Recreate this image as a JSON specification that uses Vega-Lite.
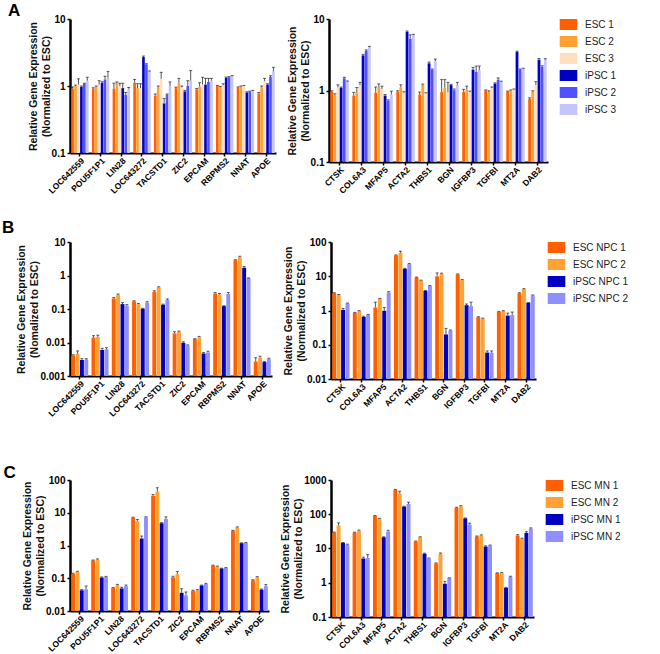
{
  "$schema": "https://vega.github.io/schema/vega-lite/v6.json",
  "padding": {"left": 1, "top": 2, "right": 0, "bottom": 0},
  "datasets": {
    "A1": [
      {"g":"LOC642559","s":"ESC 1","v":0.91,"hi":0.97},{"g":"LOC642559","s":"ESC 2","v":1.0,"hi":1.03},{"g":"LOC642559","s":"ESC 3","v":1.05,"hi":1.28},{"g":"LOC642559","s":"iPSC 1","v":0.97,"hi":1.0},{"g":"LOC642559","s":"iPSC 2","v":1.08,"hi":1.1},{"g":"LOC642559","s":"iPSC 3","v":1.2,"hi":1.35},
      {"g":"POU5F1P1","s":"ESC 1","v":0.91,"hi":0.94},{"g":"POU5F1P1","s":"ESC 2","v":0.98,"hi":1.0},{"g":"POU5F1P1","s":"ESC 3","v":1.05,"hi":1.2},{"g":"POU5F1P1","s":"iPSC 1","v":1.12,"hi":1.16},{"g":"POU5F1P1","s":"iPSC 2","v":1.25,"hi":1.4},{"g":"POU5F1P1","s":"iPSC 3","v":1.3,"hi":1.65},
      {"g":"LIN28","s":"ESC 1","v":0.91,"hi":1.1},{"g":"LIN28","s":"ESC 2","v":1.08,"hi":1.15},{"g":"LIN28","s":"ESC 3","v":1.0,"hi":1.1},{"g":"LIN28","s":"iPSC 1","v":0.93,"hi":1.1},{"g":"LIN28","s":"iPSC 2","v":0.74,"hi":0.8},{"g":"LIN28","s":"iPSC 3","v":0.91,"hi":0.95},
      {"g":"LOC643272","s":"ESC 1","v":1.12,"hi":1.25},{"g":"LOC643272","s":"ESC 2","v":0.93,"hi":1.08},{"g":"LOC643272","s":"ESC 3","v":0.93,"hi":1.08},{"g":"LOC643272","s":"iPSC 1","v":2.7,"hi":2.8},{"g":"LOC643272","s":"iPSC 2","v":2.1,"hi":2.15},{"g":"LOC643272","s":"iPSC 3","v":1.65,"hi":1.68},
      {"g":"TACSTD1","s":"ESC 1","v":0.72,"hi":0.76},{"g":"TACSTD1","s":"ESC 2","v":0.96,"hi":1.0},{"g":"TACSTD1","s":"ESC 3","v":1.28,"hi":1.6},{"g":"TACSTD1","s":"iPSC 1","v":0.55,"hi":0.65},{"g":"TACSTD1","s":"iPSC 2","v":0.74,"hi":0.76},{"g":"TACSTD1","s":"iPSC 3","v":1.0,"hi":1.15},
      {"g":"ZIC2","s":"ESC 1","v":0.93,"hi":0.96},{"g":"ZIC2","s":"ESC 2","v":1.1,"hi":1.3},{"g":"ZIC2","s":"ESC 3","v":0.96,"hi":1.0},{"g":"ZIC2","s":"iPSC 1","v":0.83,"hi":0.86},{"g":"ZIC2","s":"iPSC 2","v":1.0,"hi":1.2},{"g":"ZIC2","s":"iPSC 3","v":1.2,"hi":1.7},
      {"g":"EPCAM","s":"ESC 1","v":0.89,"hi":0.92},{"g":"EPCAM","s":"ESC 2","v":0.98,"hi":1.12},{"g":"EPCAM","s":"ESC 3","v":1.05,"hi":1.35},{"g":"EPCAM","s":"iPSC 1","v":1.05,"hi":1.3},{"g":"EPCAM","s":"iPSC 2","v":1.15,"hi":1.3},{"g":"EPCAM","s":"iPSC 3","v":1.2,"hi":1.3},
      {"g":"RBPMS2","s":"ESC 1","v":1.0,"hi":1.02},{"g":"RBPMS2","s":"ESC 2","v":0.96,"hi":0.98},{"g":"RBPMS2","s":"ESC 3","v":1.02,"hi":1.08},{"g":"RBPMS2","s":"iPSC 1","v":1.33,"hi":1.36},{"g":"RBPMS2","s":"iPSC 2","v":1.35,"hi":1.38},{"g":"RBPMS2","s":"iPSC 3","v":1.4,"hi":1.43},
      {"g":"NNAT","s":"ESC 1","v":0.95,"hi":0.97},{"g":"NNAT","s":"ESC 2","v":0.98,"hi":1.0},{"g":"NNAT","s":"ESC 3","v":1.0,"hi":1.02},{"g":"NNAT","s":"iPSC 1","v":0.8,"hi":0.82},{"g":"NNAT","s":"iPSC 2","v":0.82,"hi":0.84},{"g":"NNAT","s":"iPSC 3","v":0.84,"hi":0.86},
      {"g":"APOE","s":"ESC 1","v":0.77,"hi":0.8},{"g":"APOE","s":"ESC 2","v":0.96,"hi":1.0},{"g":"APOE","s":"ESC 3","v":1.18,"hi":1.3},{"g":"APOE","s":"iPSC 1","v":1.05,"hi":1.08},{"g":"APOE","s":"iPSC 2","v":1.36,"hi":1.42},{"g":"APOE","s":"iPSC 3","v":1.65,"hi":1.9}
    ],
    "A2": [
      {"g":"CTSK","s":"ESC 1","v":0.96,"hi":0.99},{"g":"CTSK","s":"ESC 2","v":0.87,"hi":0.9},{"g":"CTSK","s":"ESC 3","v":1.11,"hi":1.2},{"g":"CTSK","s":"iPSC 1","v":1.09,"hi":1.12},{"g":"CTSK","s":"iPSC 2","v":1.48,"hi":1.53},{"g":"CTSK","s":"iPSC 3","v":1.32,"hi":1.36},
      {"g":"COL6A3","s":"ESC 1","v":0.85,"hi":0.94},{"g":"COL6A3","s":"ESC 2","v":0.93,"hi":1.1},{"g":"COL6A3","s":"ESC 3","v":1.19,"hi":1.3},{"g":"COL6A3","s":"iPSC 1","v":3.1,"hi":3.2},{"g":"COL6A3","s":"iPSC 2","v":3.6,"hi":3.7},{"g":"COL6A3","s":"iPSC 3","v":4.0,"hi":4.15},
      {"g":"MFAP5","s":"ESC 1","v":0.93,"hi":1.12},{"g":"MFAP5","s":"ESC 2","v":1.11,"hi":1.24},{"g":"MFAP5","s":"ESC 3","v":1.05,"hi":1.15},{"g":"MFAP5","s":"iPSC 1","v":0.85,"hi":0.88},{"g":"MFAP5","s":"iPSC 2","v":0.72,"hi":0.74},{"g":"MFAP5","s":"iPSC 3","v":0.88,"hi":0.98},
      {"g":"ACTA2","s":"ESC 1","v":0.96,"hi":0.99},{"g":"ACTA2","s":"ESC 2","v":1.11,"hi":1.2},{"g":"ACTA2","s":"ESC 3","v":0.93,"hi":0.96},{"g":"ACTA2","s":"iPSC 1","v":6.6,"hi":6.8},{"g":"ACTA2","s":"iPSC 2","v":5.3,"hi":6.0},{"g":"ACTA2","s":"iPSC 3","v":5.9,"hi":6.1},
      {"g":"THBS1","s":"ESC 1","v":0.88,"hi":0.95},{"g":"THBS1","s":"ESC 2","v":1.19,"hi":1.23},{"g":"THBS1","s":"ESC 3","v":0.91,"hi":0.93},{"g":"THBS1","s":"iPSC 1","v":2.4,"hi":2.5},{"g":"THBS1","s":"iPSC 2","v":1.95,"hi":2.0},{"g":"THBS1","s":"iPSC 3","v":2.56,"hi":2.75},
      {"g":"BGN","s":"ESC 1","v":0.95,"hi":1.42},{"g":"BGN","s":"ESC 2","v":1.09,"hi":1.42},{"g":"BGN","s":"ESC 3","v":0.94,"hi":1.3},{"g":"BGN","s":"iPSC 1","v":1.19,"hi":1.22},{"g":"BGN","s":"iPSC 2","v":1.01,"hi":1.05},{"g":"BGN","s":"iPSC 3","v":1.19,"hi":1.3},
      {"g":"IGFBP3","s":"ESC 1","v":0.96,"hi":1.04},{"g":"IGFBP3","s":"ESC 2","v":1.03,"hi":1.15},{"g":"IGFBP3","s":"ESC 3","v":0.96,"hi":0.98},{"g":"IGFBP3","s":"iPSC 1","v":1.96,"hi":2.1},{"g":"IGFBP3","s":"iPSC 2","v":1.82,"hi":2.2},{"g":"IGFBP3","s":"iPSC 3","v":1.92,"hi":2.2},
      {"g":"TGFBI","s":"ESC 1","v":1.0,"hi":1.02},{"g":"TGFBI","s":"ESC 2","v":0.96,"hi":0.99},{"g":"TGFBI","s":"ESC 3","v":1.09,"hi":1.12},{"g":"TGFBI","s":"iPSC 1","v":1.25,"hi":1.28},{"g":"TGFBI","s":"iPSC 2","v":1.42,"hi":1.5},{"g":"TGFBI","s":"iPSC 3","v":1.32,"hi":1.35},
      {"g":"MT2A","s":"ESC 1","v":0.96,"hi":0.98},{"g":"MT2A","s":"ESC 2","v":1.0,"hi":1.02},{"g":"MT2A","s":"ESC 3","v":1.03,"hi":1.05},{"g":"MT2A","s":"iPSC 1","v":3.45,"hi":3.55},{"g":"MT2A","s":"iPSC 2","v":1.96,"hi":2.0},{"g":"MT2A","s":"iPSC 3","v":2.0,"hi":2.05},
      {"g":"DAB2","s":"ESC 1","v":0.76,"hi":0.79},{"g":"DAB2","s":"ESC 2","v":0.96,"hi":0.99},{"g":"DAB2","s":"ESC 3","v":1.19,"hi":1.33},{"g":"DAB2","s":"iPSC 1","v":2.7,"hi":2.8},{"g":"DAB2","s":"iPSC 2","v":2.15,"hi":2.22},{"g":"DAB2","s":"iPSC 3","v":2.7,"hi":2.78}
    ],
    "B1": [
      {"g":"LOC642559","s":"ESC NPC 1","v":0.0041,"hi":0.0043},{"g":"LOC642559","s":"ESC NPC 2","v":0.0046,"hi":0.0056},{"g":"LOC642559","s":"iPSC NPC 1","v":0.003,"hi":0.0033},{"g":"LOC642559","s":"iPSC NPC 2","v":0.0031,"hi":0.0033},
      {"g":"POU5F1P1","s":"ESC NPC 1","v":0.014,"hi":0.016},{"g":"POU5F1P1","s":"ESC NPC 2","v":0.0145,"hi":0.0165},{"g":"POU5F1P1","s":"iPSC NPC 1","v":0.006,"hi":0.0067},{"g":"POU5F1P1","s":"iPSC NPC 2","v":0.0063,"hi":0.007},
      {"g":"LIN28","s":"ESC NPC 1","v":0.207,"hi":0.22},{"g":"LIN28","s":"ESC NPC 2","v":0.26,"hi":0.28},{"g":"LIN28","s":"iPSC NPC 1","v":0.14,"hi":0.155},{"g":"LIN28","s":"iPSC NPC 2","v":0.125,"hi":0.135},
      {"g":"LOC643272","s":"ESC NPC 1","v":0.168,"hi":0.176},{"g":"LOC643272","s":"ESC NPC 2","v":0.14,"hi":0.146},{"g":"LOC643272","s":"iPSC NPC 1","v":0.102,"hi":0.105},{"g":"LOC643272","s":"iPSC NPC 2","v":0.154,"hi":0.165},
      {"g":"TACSTD1","s":"ESC NPC 1","v":0.326,"hi":0.35},{"g":"TACSTD1","s":"ESC NPC 2","v":0.44,"hi":0.46},{"g":"TACSTD1","s":"iPSC NPC 1","v":0.134,"hi":0.14},{"g":"TACSTD1","s":"iPSC NPC 2","v":0.185,"hi":0.2},
      {"g":"ZIC2","s":"ESC NPC 1","v":0.0187,"hi":0.021},{"g":"ZIC2","s":"ESC NPC 2","v":0.021,"hi":0.022},{"g":"ZIC2","s":"iPSC NPC 1","v":0.0098,"hi":0.0105},{"g":"ZIC2","s":"iPSC NPC 2","v":0.0082,"hi":0.0085},
      {"g":"EPCAM","s":"ESC NPC 1","v":0.0127,"hi":0.013},{"g":"EPCAM","s":"ESC NPC 2","v":0.0143,"hi":0.0152},{"g":"EPCAM","s":"iPSC NPC 1","v":0.0047,"hi":0.005},{"g":"EPCAM","s":"iPSC NPC 2","v":0.005,"hi":0.0055},
      {"g":"RBPMS2","s":"ESC NPC 1","v":0.29,"hi":0.31},{"g":"RBPMS2","s":"ESC NPC 2","v":0.27,"hi":0.29},{"g":"RBPMS2","s":"iPSC NPC 1","v":0.122,"hi":0.125},{"g":"RBPMS2","s":"iPSC NPC 2","v":0.28,"hi":0.31},
      {"g":"NNAT","s":"ESC NPC 1","v":2.86,"hi":2.95},{"g":"NNAT","s":"ESC NPC 2","v":3.5,"hi":3.75},{"g":"NNAT","s":"iPSC NPC 1","v":1.7,"hi":1.85},{"g":"NNAT","s":"iPSC NPC 2","v":0.83,"hi":0.85},
      {"g":"APOE","s":"ESC NPC 1","v":0.0027,"hi":0.0035},{"g":"APOE","s":"ESC NPC 2","v":0.0035,"hi":0.0039},{"g":"APOE","s":"iPSC NPC 1","v":0.0026,"hi":0.0027},{"g":"APOE","s":"iPSC NPC 2","v":0.0032,"hi":0.0034}
    ],
    "B2": [
      {"g":"CTSK","s":"ESC NPC 1","v":3.2,"hi":3.3},{"g":"CTSK","s":"ESC NPC 2","v":2.87,"hi":2.95},{"g":"CTSK","s":"iPSC NPC 1","v":1.04,"hi":1.15},{"g":"CTSK","s":"iPSC NPC 2","v":1.6,"hi":1.65},
      {"g":"COL6A3","s":"ESC NPC 1","v":0.86,"hi":0.88},{"g":"COL6A3","s":"ESC NPC 2","v":0.96,"hi":0.99},{"g":"COL6A3","s":"iPSC NPC 1","v":0.65,"hi":0.68},{"g":"COL6A3","s":"iPSC NPC 2","v":0.75,"hi":0.77},
      {"g":"MFAP5","s":"ESC NPC 1","v":1.22,"hi":1.75},{"g":"MFAP5","s":"ESC NPC 2","v":2.2,"hi":2.25},{"g":"MFAP5","s":"iPSC NPC 1","v":0.98,"hi":1.22},{"g":"MFAP5","s":"iPSC NPC 2","v":3.36,"hi":3.55},
      {"g":"ACTA2","s":"ESC NPC 1","v":40.6,"hi":42},{"g":"ACTA2","s":"ESC NPC 2","v":47.6,"hi":54},{"g":"ACTA2","s":"iPSC NPC 1","v":16.5,"hi":17},{"g":"ACTA2","s":"iPSC NPC 2","v":22.6,"hi":23.5},
      {"g":"THBS1","s":"ESC NPC 1","v":9.2,"hi":9.5},{"g":"THBS1","s":"ESC NPC 2","v":7.5,"hi":7.7},{"g":"THBS1","s":"iPSC NPC 1","v":3.76,"hi":3.85},{"g":"THBS1","s":"iPSC NPC 2","v":5.2,"hi":5.4},
      {"g":"BGN","s":"ESC NPC 1","v":9.9,"hi":12.5},{"g":"BGN","s":"ESC NPC 2","v":11.8,"hi":12.3},{"g":"BGN","s":"iPSC NPC 1","v":0.2,"hi":0.3},{"g":"BGN","s":"iPSC NPC 2","v":0.26,"hi":0.27},
      {"g":"IGFBP3","s":"ESC NPC 1","v":11.3,"hi":11.7},{"g":"IGFBP3","s":"ESC NPC 2","v":7.7,"hi":8.0},{"g":"IGFBP3","s":"iPSC NPC 1","v":1.43,"hi":1.55},{"g":"IGFBP3","s":"iPSC NPC 2","v":1.34,"hi":1.75},
      {"g":"TGFBI","s":"ESC NPC 1","v":0.64,"hi":0.66},{"g":"TGFBI","s":"ESC NPC 2","v":0.58,"hi":0.6},{"g":"TGFBI","s":"iPSC NPC 1","v":0.059,"hi":0.066},{"g":"TGFBI","s":"iPSC NPC 2","v":0.059,"hi":0.066},
      {"g":"MT2A","s":"ESC NPC 1","v":0.91,"hi":0.94},{"g":"MT2A","s":"ESC NPC 2","v":0.96,"hi":0.99},{"g":"MT2A","s":"iPSC NPC 1","v":0.71,"hi":0.84},{"g":"MT2A","s":"iPSC NPC 2","v":0.73,"hi":0.9},
      {"g":"DAB2","s":"ESC NPC 1","v":3.2,"hi":3.3},{"g":"DAB2","s":"ESC NPC 2","v":4.2,"hi":4.35},{"g":"DAB2","s":"iPSC NPC 1","v":1.68,"hi":1.72},{"g":"DAB2","s":"iPSC NPC 2","v":2.75,"hi":2.85}
    ],
    "C1": [
      {"g":"LOC642559","s":"ESC MN 1","v":0.136,"hi":0.142},{"g":"LOC642559","s":"ESC MN 2","v":0.156,"hi":0.163},{"g":"LOC642559","s":"iPSC MN 1","v":0.043,"hi":0.045},{"g":"LOC642559","s":"iPSC MN 2","v":0.046,"hi":0.058},
      {"g":"POU5F1P1","s":"ESC MN 1","v":0.347,"hi":0.36},{"g":"POU5F1P1","s":"ESC MN 2","v":0.373,"hi":0.39},{"g":"POU5F1P1","s":"iPSC MN 1","v":0.105,"hi":0.11},{"g":"POU5F1P1","s":"iPSC MN 2","v":0.11,"hi":0.114},
      {"g":"LIN28","s":"ESC MN 1","v":0.05,"hi":0.052},{"g":"LIN28","s":"ESC MN 2","v":0.061,"hi":0.065},{"g":"LIN28","s":"iPSC MN 1","v":0.049,"hi":0.053},{"g":"LIN28","s":"iPSC MN 2","v":0.057,"hi":0.062},
      {"g":"LOC643272","s":"ESC MN 1","v":7.0,"hi":7.3},{"g":"LOC643272","s":"ESC MN 2","v":5.55,"hi":6.2},{"g":"LOC643272","s":"iPSC MN 1","v":1.64,"hi":1.95},{"g":"LOC643272","s":"iPSC MN 2","v":7.2,"hi":7.5},
      {"g":"TACSTD1","s":"ESC MN 1","v":33,"hi":36},{"g":"TACSTD1","s":"ESC MN 2","v":44,"hi":58},{"g":"TACSTD1","s":"iPSC MN 1","v":4.8,"hi":5.0},{"g":"TACSTD1","s":"iPSC MN 2","v":6.5,"hi":7.5},
      {"g":"ZIC2","s":"ESC MN 1","v":0.107,"hi":0.115},{"g":"ZIC2","s":"ESC MN 2","v":0.133,"hi":0.16},{"g":"ZIC2","s":"iPSC MN 1","v":0.036,"hi":0.048},{"g":"ZIC2","s":"iPSC MN 2","v":0.03,"hi":0.038},
      {"g":"EPCAM","s":"ESC MN 1","v":0.041,"hi":0.043},{"g":"EPCAM","s":"ESC MN 2","v":0.043,"hi":0.045},{"g":"EPCAM","s":"iPSC MN 1","v":0.06,"hi":0.062},{"g":"EPCAM","s":"iPSC MN 2","v":0.067,"hi":0.07},
      {"g":"RBPMS2","s":"ESC MN 1","v":0.244,"hi":0.252},{"g":"RBPMS2","s":"ESC MN 2","v":0.228,"hi":0.235},{"g":"RBPMS2","s":"iPSC MN 1","v":0.198,"hi":0.203},{"g":"RBPMS2","s":"iPSC MN 2","v":0.207,"hi":0.212},
      {"g":"NNAT","s":"ESC MN 1","v":2.8,"hi":2.9},{"g":"NNAT","s":"ESC MN 2","v":3.55,"hi":3.7},{"g":"NNAT","s":"iPSC MN 1","v":1.18,"hi":1.21},{"g":"NNAT","s":"iPSC MN 2","v":1.2,"hi":1.23},
      {"g":"APOE","s":"ESC MN 1","v":0.087,"hi":0.09},{"g":"APOE","s":"ESC MN 2","v":0.107,"hi":0.112},{"g":"APOE","s":"iPSC MN 1","v":0.045,"hi":0.047},{"g":"APOE","s":"iPSC MN 2","v":0.057,"hi":0.064}
    ],
    "C2": [
      {"g":"CTSK","s":"ESC MN 1","v":29.2,"hi":30},{"g":"CTSK","s":"ESC MN 2","v":46.6,"hi":56},{"g":"CTSK","s":"iPSC MN 1","v":14.6,"hi":15},{"g":"CTSK","s":"iPSC MN 2","v":13.0,"hi":13.4},
      {"g":"COL6A3","s":"ESC MN 1","v":29.2,"hi":30},{"g":"COL6A3","s":"ESC MN 2","v":33.4,"hi":34.5},{"g":"COL6A3","s":"iPSC MN 1","v":5.1,"hi":5.6},{"g":"COL6A3","s":"iPSC MN 2","v":5.3,"hi":6.6},
      {"g":"MFAP5","s":"ESC MN 1","v":89,"hi":92},{"g":"MFAP5","s":"ESC MN 2","v":74,"hi":76},{"g":"MFAP5","s":"iPSC MN 1","v":21.4,"hi":22},{"g":"MFAP5","s":"iPSC MN 2","v":31.2,"hi":34},
      {"g":"ACTA2","s":"ESC MN 1","v":510,"hi":530},{"g":"ACTA2","s":"ESC MN 2","v":400,"hi":470},{"g":"ACTA2","s":"iPSC MN 1","v":167,"hi":172},{"g":"ACTA2","s":"iPSC MN 2","v":200,"hi":225},
      {"g":"THBS1","s":"ESC MN 1","v":16,"hi":16.5},{"g":"THBS1","s":"ESC MN 2","v":21.4,"hi":22},{"g":"THBS1","s":"iPSC MN 1","v":7.0,"hi":7.3},{"g":"THBS1","s":"iPSC MN 2","v":5.1,"hi":5.3},
      {"g":"BGN","s":"ESC MN 1","v":3.65,"hi":3.8},{"g":"BGN","s":"ESC MN 2","v":7.1,"hi":7.4},{"g":"BGN","s":"iPSC MN 1","v":0.94,"hi":1.1},{"g":"BGN","s":"iPSC MN 2","v":1.37,"hi":1.4},
      {"g":"IGFBP3","s":"ESC MN 1","v":153,"hi":160},{"g":"IGFBP3","s":"ESC MN 2","v":170,"hi":178},{"g":"IGFBP3","s":"iPSC MN 1","v":76,"hi":78},{"g":"IGFBP3","s":"iPSC MN 2","v":50,"hi":55},
      {"g":"TGFBI","s":"ESC MN 1","v":22.4,"hi":23.2},{"g":"TGFBI","s":"ESC MN 2","v":24,"hi":25},{"g":"TGFBI","s":"iPSC MN 1","v":11.4,"hi":12},{"g":"TGFBI","s":"iPSC MN 2","v":12.2,"hi":12.6},
      {"g":"MT2A","s":"ESC MN 1","v":1.91,"hi":1.95},{"g":"MT2A","s":"ESC MN 2","v":1.95,"hi":2.0},{"g":"MT2A","s":"iPSC MN 1","v":0.71,"hi":0.73},{"g":"MT2A","s":"iPSC MN 2","v":1.5,"hi":1.55},
      {"g":"DAB2","s":"ESC MN 1","v":24,"hi":25.5},{"g":"DAB2","s":"ESC MN 2","v":19.1,"hi":20},{"g":"DAB2","s":"iPSC MN 1","v":28.5,"hi":31},{"g":"DAB2","s":"iPSC MN 2","v":38,"hi":40}
    ]
  },
  "vconcat": [
    {
      "title": {"text": "A", "anchor": "start", "dx": -20, "fontSize": 17, "fontWeight": "bold", "offset": -6, "font": "Liberation Sans", "color": "#000"},
      "spacing": 11,
      "resolve": {"scale": {"color": "shared", "x": "independent", "y": "independent", "xOffset": "independent"}, "legend": {"color": "shared"}},
      "hconcat": [
        {
          "width": 206, "height": 134,
          "data": {"name": "A1"},
          "encoding": {
            "x": {"field": "g", "type": "nominal", "sort": null, "scale": {"paddingInner": 0.16, "paddingOuter": 0.06}, "axis": {"title": null}},
            "xOffset": {"field": "s", "type": "nominal", "sort": ["ESC 1","ESC 2","ESC 3","iPSC 1","iPSC 2","iPSC 3"], "scale": {"paddingInner": 0.1}}
          },
          "layer": [
            {"mark": {"type": "bar"}, "encoding": {
              "y": {"field": "v", "type": "quantitative", "stack": null, "scale": {"type": "log", "domain": [0.1, 10], "nice": false}, "axis": {"values": [0.1, 1, 10], "format": "~g", "title": ["Relative Gene Expression", "(Normalized to ESC)"]}},
              "color": {"field": "s", "type": "nominal", "scale": {"domain": ["ESC 1","ESC 2","ESC 3","iPSC 1","iPSC 2","iPSC 3"], "range": ["#ff5f00","#ffa133","#ffdfc0","#0000c0","#5050ff","#c4c4ff"]}}}},
            {"mark": {"type": "rule", "color": "#555", "strokeWidth": 1}, "encoding": {"y": {"field": "v", "type": "quantitative"}, "y2": {"field": "hi"}}},
            {"mark": {"type": "tick", "color": "#222", "thickness": 1, "size": 3}, "encoding": {"y": {"field": "hi", "type": "quantitative"}}}
          ]
        },
        {
          "width": 219, "height": 143,
          "data": {"name": "A2"},
          "encoding": {
            "x": {"field": "g", "type": "nominal", "sort": null, "scale": {"paddingInner": 0.16, "paddingOuter": 0.06}, "axis": {"title": null}},
            "xOffset": {"field": "s", "type": "nominal", "sort": ["ESC 1","ESC 2","ESC 3","iPSC 1","iPSC 2","iPSC 3"], "scale": {"paddingInner": 0.1}}
          },
          "layer": [
            {"mark": {"type": "bar"}, "encoding": {
              "y": {"field": "v", "type": "quantitative", "stack": null, "scale": {"type": "log", "domain": [0.1, 10], "nice": false}, "axis": {"values": [0.1, 1, 10], "format": "~g", "title": ["Relative Gene Expression", "(Normalized to ESC)"]}},
              "color": {"field": "s", "type": "nominal", "scale": {"domain": ["ESC 1","ESC 2","ESC 3","iPSC 1","iPSC 2","iPSC 3"], "range": ["#ff5f00","#ffa133","#ffdfc0","#0000c0","#5050ff","#c4c4ff"]}}}},
            {"mark": {"type": "rule", "color": "#555", "strokeWidth": 1}, "encoding": {"y": {"field": "v", "type": "quantitative"}, "y2": {"field": "hi"}}},
            {"mark": {"type": "tick", "color": "#222", "thickness": 1, "size": 3}, "encoding": {"y": {"field": "hi", "type": "quantitative"}}}
          ]
        }
      ]
    },
    {
      "title": {"text": "B", "anchor": "start", "dx": -15, "fontSize": 17, "fontWeight": "bold", "offset": 0, "font": "Liberation Sans", "color": "#000"},
      "spacing": 11,
      "resolve": {"scale": {"color": "shared", "x": "independent", "y": "independent", "xOffset": "independent"}, "legend": {"color": "shared"}},
      "hconcat": [
        {
          "width": 202, "height": 134,
          "data": {"name": "B1"},
          "encoding": {
            "x": {"field": "g", "type": "nominal", "sort": null, "scale": {"paddingInner": 0.16, "paddingOuter": 0.06}, "axis": {"title": null}},
            "xOffset": {"field": "s", "type": "nominal", "sort": ["ESC NPC 1","ESC NPC 2","iPSC NPC 1","iPSC NPC 2"], "scale": {"paddingInner": 0.1}}
          },
          "layer": [
            {"mark": {"type": "bar"}, "encoding": {
              "y": {"field": "v", "type": "quantitative", "stack": null, "scale": {"type": "log", "domain": [0.001, 10], "nice": false}, "axis": {"values": [0.001, 0.01, 0.1, 1, 10], "format": "~g", "title": ["Relative Gene Expression", "(Nomalized to ESC)"]}},
              "color": {"field": "s", "type": "nominal", "scale": {"domain": ["ESC NPC 1","ESC NPC 2","iPSC NPC 1","iPSC NPC 2"], "range": ["#ff5f00","#ffa133","#0000c0","#8f8fff"]}}}},
            {"mark": {"type": "rule", "color": "#555", "strokeWidth": 1}, "encoding": {"y": {"field": "v", "type": "quantitative"}, "y2": {"field": "hi"}}},
            {"mark": {"type": "tick", "color": "#222", "thickness": 1, "size": 3}, "encoding": {"y": {"field": "hi", "type": "quantitative"}}}
          ]
        },
        {
          "width": 205, "height": 137,
          "data": {"name": "B2"},
          "encoding": {
            "x": {"field": "g", "type": "nominal", "sort": null, "scale": {"paddingInner": 0.16, "paddingOuter": 0.06}, "axis": {"title": null}},
            "xOffset": {"field": "s", "type": "nominal", "sort": ["ESC NPC 1","ESC NPC 2","iPSC NPC 1","iPSC NPC 2"], "scale": {"paddingInner": 0.1}}
          },
          "layer": [
            {"mark": {"type": "bar"}, "encoding": {
              "y": {"field": "v", "type": "quantitative", "stack": null, "scale": {"type": "log", "domain": [0.01, 100], "nice": false}, "axis": {"values": [0.01, 0.1, 1, 10, 100], "format": "~g", "title": ["Relative Gene Expression", "(Normalized to ESC)"]}},
              "color": {"field": "s", "type": "nominal", "scale": {"domain": ["ESC NPC 1","ESC NPC 2","iPSC NPC 1","iPSC NPC 2"], "range": ["#ff5f00","#ffa133","#0000c0","#8f8fff"]}}}},
            {"mark": {"type": "rule", "color": "#555", "strokeWidth": 1}, "encoding": {"y": {"field": "v", "type": "quantitative"}, "y2": {"field": "hi"}}},
            {"mark": {"type": "tick", "color": "#222", "thickness": 1, "size": 3}, "encoding": {"y": {"field": "hi", "type": "quantitative"}}}
          ]
        }
      ]
    },
    {
      "title": {"text": ["", "C"], "lineHeight": 22, "anchor": "start", "dx": -19, "fontSize": 17, "fontWeight": "bold", "offset": -7, "font": "Liberation Sans", "color": "#000"},
      "spacing": 11,
      "resolve": {"scale": {"color": "shared", "x": "independent", "y": "independent", "xOffset": "independent"}, "legend": {"color": "shared"}},
      "hconcat": [
        {
          "width": 199, "height": 131,
          "data": {"name": "C1"},
          "encoding": {
            "x": {"field": "g", "type": "nominal", "sort": null, "scale": {"paddingInner": 0.16, "paddingOuter": 0.06}, "axis": {"title": null}},
            "xOffset": {"field": "s", "type": "nominal", "sort": ["ESC MN 1","ESC MN 2","iPSC MN 1","iPSC MN 2"], "scale": {"paddingInner": 0.1}}
          },
          "layer": [
            {"mark": {"type": "bar"}, "encoding": {
              "y": {"field": "v", "type": "quantitative", "stack": null, "scale": {"type": "log", "domain": [0.01, 100], "nice": false}, "axis": {"values": [0.01, 0.1, 1, 10, 100], "format": "~g", "title": ["Relative Gene Expression", "(Normalized to ESC)"]}},
              "color": {"field": "s", "type": "nominal", "scale": {"domain": ["ESC MN 1","ESC MN 2","iPSC MN 1","iPSC MN 2"], "range": ["#ff5f00","#ffa133","#0000c0","#8f8fff"]}}}},
            {"mark": {"type": "rule", "color": "#555", "strokeWidth": 1}, "encoding": {"y": {"field": "v", "type": "quantitative"}, "y2": {"field": "hi"}}},
            {"mark": {"type": "tick", "color": "#222", "thickness": 1, "size": 3}, "encoding": {"y": {"field": "hi", "type": "quantitative"}}}
          ]
        },
        {
          "width": 203, "height": 137,
          "data": {"name": "C2"},
          "encoding": {
            "x": {"field": "g", "type": "nominal", "sort": null, "scale": {"paddingInner": 0.16, "paddingOuter": 0.06}, "axis": {"title": null}},
            "xOffset": {"field": "s", "type": "nominal", "sort": ["ESC MN 1","ESC MN 2","iPSC MN 1","iPSC MN 2"], "scale": {"paddingInner": 0.1}}
          },
          "layer": [
            {"mark": {"type": "bar"}, "encoding": {
              "y": {"field": "v", "type": "quantitative", "stack": null, "scale": {"type": "log", "domain": [0.1, 1000], "nice": false}, "axis": {"values": [0.1, 1, 10, 100, 1000], "format": "~g", "title": ["Relative Gene Expression", "(Normalized to ESC)"]}},
              "color": {"field": "s", "type": "nominal", "scale": {"domain": ["ESC MN 1","ESC MN 2","iPSC MN 1","iPSC MN 2"], "range": ["#ff5f00","#ffa133","#0000c0","#8f8fff"]}}}},
            {"mark": {"type": "rule", "color": "#555", "strokeWidth": 1}, "encoding": {"y": {"field": "v", "type": "quantitative"}, "y2": {"field": "hi"}}},
            {"mark": {"type": "tick", "color": "#222", "thickness": 1, "size": 3}, "encoding": {"y": {"field": "hi", "type": "quantitative"}}}
          ]
        }
      ]
    }
  ],
  "spacing": 24,
  "resolve": {"scale": {"color": "independent", "x": "independent", "y": "independent", "xOffset": "independent"}, "legend": {"color": "independent"}},
  "config": {
    "view": {"stroke": null},
    "font": "Liberation Sans",
    "axis": {"domainColor": "#000", "domainWidth": 2, "tickColor": "#000", "tickWidth": 1.5, "tickSize": 3, "labelColor": "#000", "labelFont": "Liberation Sans", "labelFontWeight": "bold", "titleFont": "Liberation Sans", "titleColor": "#111", "grid": false},
    "axisX": {"labelAngle": -45, "labelFontSize": 8.5, "labelPadding": 0},
    "axisY": {"labelFontSize": 10, "titleFontSize": 10.5, "titleLineHeight": 13, "titleFontWeight": "bold", "titlePadding": 0, "labelPadding": 2, "domainWidth": 2.5},
    "legend": {"title": null, "orient": "right", "offset": 15, "padding": 0, "symbolType": "M-1.6,-1L1.6,-1L1.6,1L-1.6,1Z", "symbolSize": 121, "symbolStrokeWidth": 0, "labelFontSize": 10, "labelFont": "Liberation Sans", "labelColor": "#222", "labelOffset": 11, "rowPadding": 6}
  }
}
